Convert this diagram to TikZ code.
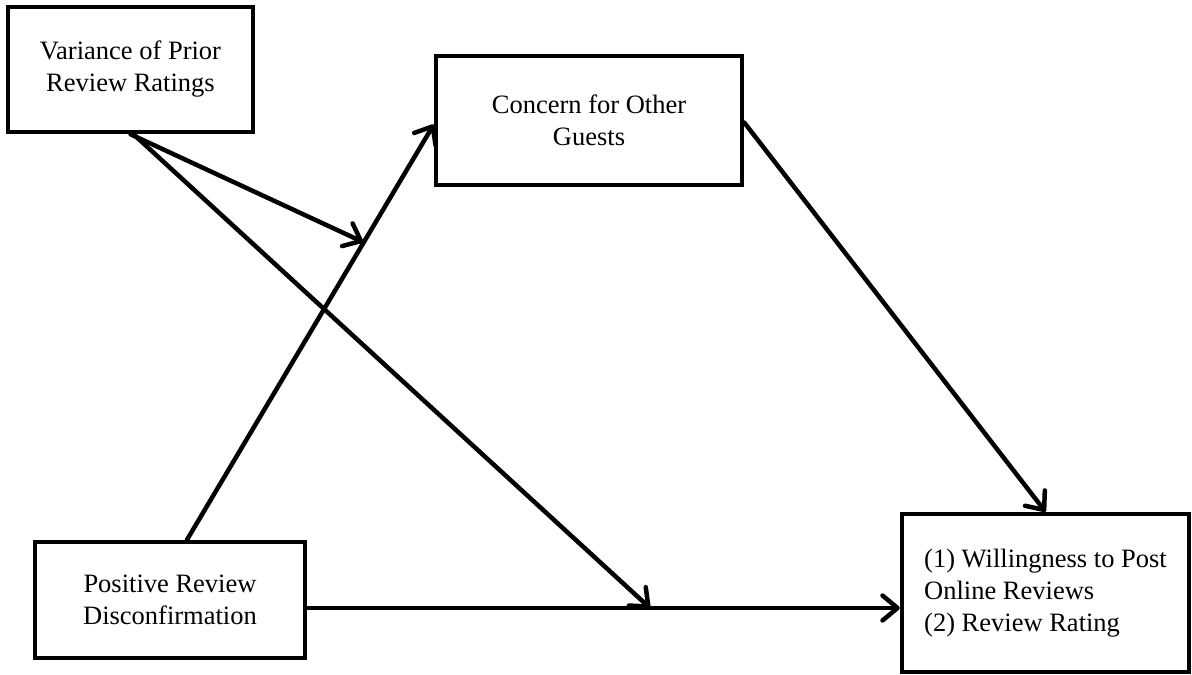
\documentclass[tikz,border=0pt]{standalone}
\usepackage{fontspec}
\setmainfont{Liberation Serif}
\usetikzlibrary{arrows.meta,calc}
\begin{document}
\begin{tikzpicture}[x=1pt,y=-1pt,
  box/.style={draw=black, line width=4.5pt, fill=white, align=center, inner sep=0pt,
    font=\fontsize{26.5}{32}\selectfont},
  conn/.style={line width=4.5pt, line cap=round,
    -{Straight Barb[length=15pt,width=25pt,line width=4.5pt,line cap=round,line join=round]}}]
\useasboundingbox (0,0) rectangle (1192,675);
\node[box, minimum width=245pt, minimum height=125pt] (var) at (130.5,69.5)
  {Variance of Prior\\Review Ratings};
\node[box, minimum width=306pt, minimum height=129pt] (con) at (589,120.5)
  {Concern for Other\\Guests};
\node[box, minimum width=270pt, minimum height=116pt] (pos) at (170,600)
  {Positive Review\\Disconfirmation};
\node[box, align=left, minimum width=287pt, minimum height=158pt] (out) at (1045.5,593)
  {(1) Willingness to Post\\Online Reviews\\(2) Review Rating};
\coordinate (h) at ([yshift=-8pt]pos.east);
\coordinate (m1) at (363,242);
\coordinate (m2) at (650,608);
\draw[conn] ([xshift=17pt]pos.north) -- ([yshift=-4pt]con.west);
\draw[conn] (var.south) -- (m1);
\draw[conn] ([xshift=3pt]var.south) -- (m2);
\draw[conn] ([yshift=-2pt]con.east) -- (out.north);
\draw[conn] (h) -- (h -| out.west);
\end{tikzpicture}
\end{document}
